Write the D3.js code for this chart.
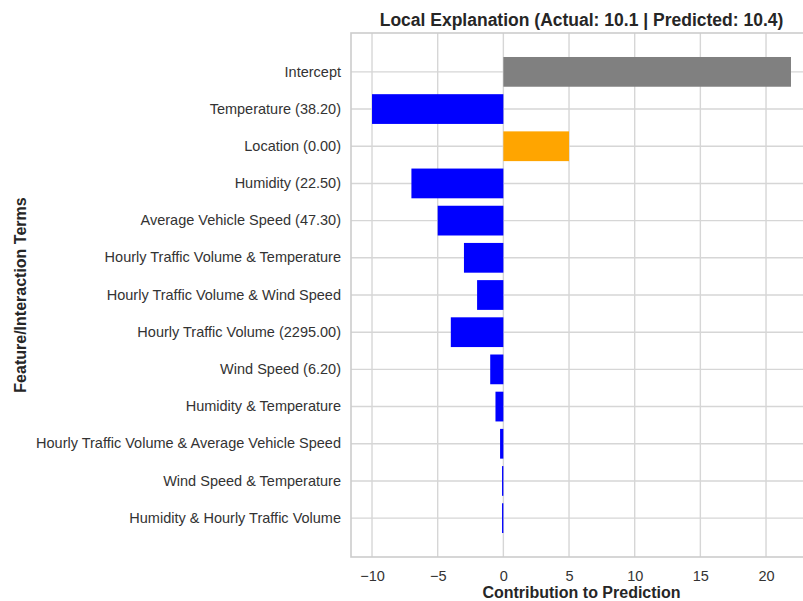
<!DOCTYPE html>
<html>
<head>
<meta charset="utf-8">
<script src="https://cdn.jsdelivr.net/npm/d3@7"></script>
<style>
  html, body { margin: 0; padding: 0; background: #fff; overflow: hidden; }
  svg { display: block; }
  text { font-family: "Liberation Sans", Arial, sans-serif; }
</style>
</head>
<body>
<svg id="chart" width="803" height="601"></svg>
<script>
// Feature / interaction terms, top to bottom
const terms = [
  "Intercept",
  "Temperature (38.20)",
  "Location (0.00)",
  "Humidity (22.50)",
  "Average Vehicle Speed (47.30)",
  "Hourly Traffic Volume & Temperature",
  "Hourly Traffic Volume & Wind Speed",
  "Hourly Traffic Volume (2295.00)",
  "Wind Speed (6.20)",
  "Humidity & Temperature",
  "Hourly Traffic Volume & Average Vehicle Speed",
  "Wind Speed & Temperature",
  "Humidity & Hourly Traffic Volume"
];
// Contribution of each term to the prediction
const contributions = [21.9, -10.0, 5.0, -7.0, -5.0, -3.0, -2.0, -4.0, -1.0, -0.6, -0.25, -0.1, -0.1];
const xTicks = [-10, -5, 0, 5, 10, 15, 20];
const xDomain = [-11.6, 23.5];

const svg = d3.select("#chart");
const plot = { left: 351, right: 812, top: 33, bottom: 557 };

const x = d3.scaleLinear().domain(xDomain).range([plot.left, plot.right]);
const y = d3.scaleBand().domain(terms).range([plot.top, plot.bottom])
  .paddingInner(0.2).paddingOuter(0.645);

const barColor = (term, v) => term === "Intercept" ? "#808080" : (v >= 0 ? "#ffa500" : "#0000ff");

const gridColor = "#d6d6d6";
const tickFont = 14.5;

// vertical grid lines at x ticks
svg.append("g").selectAll("line").data(xTicks).join("line")
  .attr("x1", d => x(d)).attr("x2", d => x(d))
  .attr("y1", plot.top).attr("y2", plot.bottom)
  .attr("stroke", gridColor).attr("stroke-width", 1.4);

// horizontal grid lines at each term
svg.append("g").selectAll("line").data(terms).join("line")
  .attr("x1", plot.left).attr("x2", plot.right)
  .attr("y1", d => y(d) + y.bandwidth() / 2).attr("y2", d => y(d) + y.bandwidth() / 2)
  .attr("stroke", gridColor).attr("stroke-width", 1.4);

// bars
svg.append("g").selectAll("rect").data(terms).join("rect")
  .attr("x", (d, i) => x(Math.min(0, contributions[i])))
  .attr("width", (d, i) => Math.abs(x(contributions[i]) - x(0)))
  .attr("y", d => y(d))
  .attr("height", y.bandwidth())
  .attr("fill", (d, i) => barColor(d, contributions[i]));

// axes frame
svg.append("rect")
  .attr("x", plot.left).attr("y", plot.top)
  .attr("width", plot.right - plot.left).attr("height", plot.bottom - plot.top)
  .attr("fill", "none").attr("stroke", "#cccccc").attr("stroke-width", 1.6);

// x axis tick labels
const xAxis = d3.axisBottom(x).tickValues(xTicks).tickSize(0).tickPadding(14)
  .tickFormat(d => d < 0 ? "\u2212" + Math.abs(d) : String(d));
const gx = svg.append("g").attr("transform", `translate(0,${plot.bottom})`).call(xAxis);
gx.select(".domain").remove();
gx.selectAll("text").attr("font-size", tickFont).attr("fill", "#333").attr("font-family", "Liberation Sans, Arial, sans-serif");

// y axis tick labels
const yAxis = d3.axisLeft(y).tickSize(0).tickPadding(10);
const gy = svg.append("g").attr("transform", `translate(${plot.left},0)`).call(yAxis);
gy.select(".domain").remove();
gy.selectAll("text").attr("font-size", tickFont).attr("fill", "#333").attr("font-family", "Liberation Sans, Arial, sans-serif");

// title
svg.append("text")
  .attr("x", (plot.left + plot.right) / 2).attr("y", 26)
  .attr("text-anchor", "middle")
  .attr("font-size", 17.5).attr("font-weight", "bold").attr("fill", "#262626")
  .text("Local Explanation (Actual: 10.1 | Predicted: 10.4)");

// axis titles
svg.append("text")
  .attr("x", (plot.left + plot.right) / 2).attr("y", 598)
  .attr("text-anchor", "middle")
  .attr("font-size", 16).attr("font-weight", "bold").attr("fill", "#262626")
  .text("Contribution to Prediction");

svg.append("text")
  .attr("transform", `translate(26,${(plot.top + plot.bottom) / 2}) rotate(-90)`)
  .attr("text-anchor", "middle")
  .attr("font-size", 16).attr("font-weight", "bold").attr("fill", "#262626")
  .text("Feature/Interaction Terms");
</script>
</body>
</html>
